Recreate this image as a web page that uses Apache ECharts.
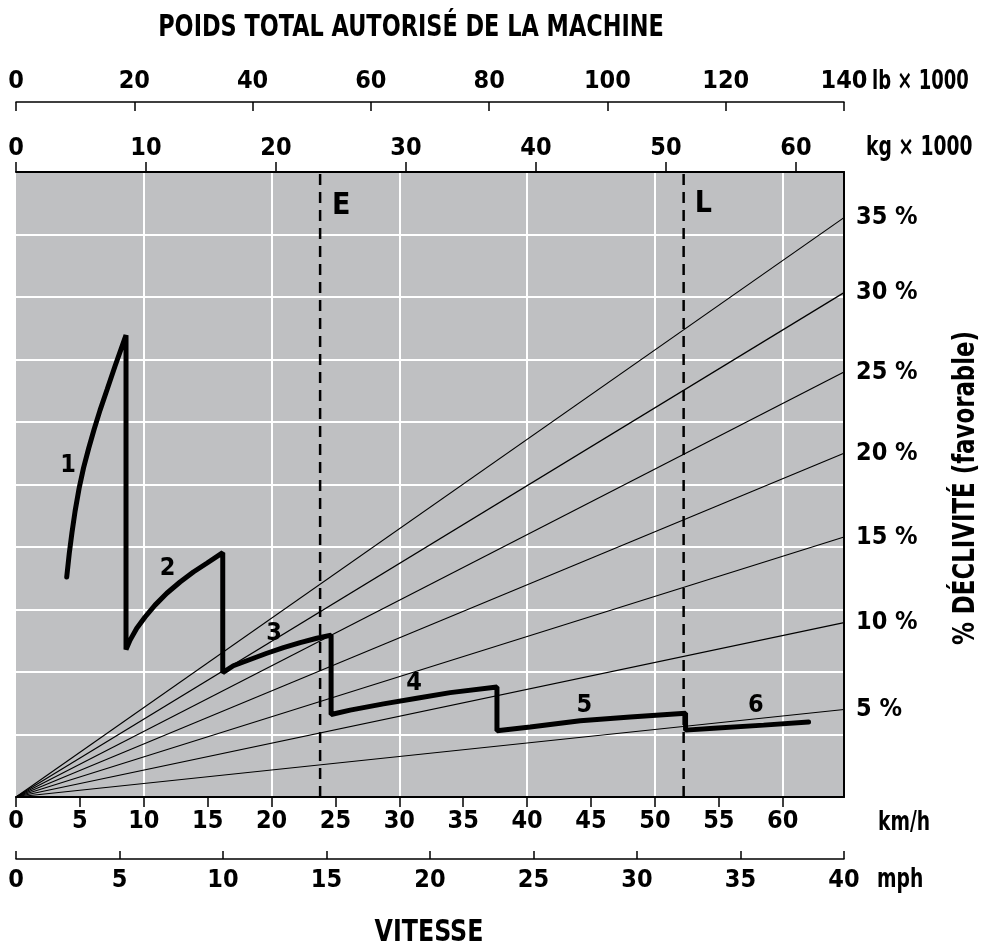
<!DOCTYPE html>
<html>
<head>
<meta charset="utf-8">
<script src="https://cdn.jsdelivr.net/npm/echarts@6/dist/echarts.min.js"></script>
<style>
html,body{margin:0;padding:0;background:#fff;}
#c{width:982px;height:949px;}
</style>
</head>
<body>
<div id="c"></div>
<script>
// ---- axes ranges & ticks ----
const kmhMax = 64.8, kgMax = 63.7, lbMax = 140, mphMax = 40;
const kmhTicks = [0,5,10,15,20,25,30,35,40,45,50,55,60];
const kmhGrid = [10,20,30,40,50,60];
const mphTicks = [0,5,10,15,20,25,30,35,40];
const kgTicks = [0,10,20,30,40,50,60];
const lbTicks = [0,20,40,60,80,100,120,140];

// ---- grade lines (end value at right edge, in chart units 0-10) ----
const gradeLabels = ['5 %','10 %','15 %','20 %','25 %','30 %','35 %'];
const gradeEnd = [1.40, 2.79, 4.16, 5.50, 6.80, 8.07, 9.27];

// ---- retarder curves per gear: [km/h, chart units] ----
const gear1 = [[3.97,3.52],[4.17,3.90],[4.38,4.23],[4.63,4.58],[4.94,4.94],[5.29,5.27],[5.69,5.58],[6.11,5.88],[6.58,6.19],[7.13,6.52],[7.76,6.90],[8.61,7.39]];
const gear2 = [[8.61,2.36],[8.93,2.51],[9.45,2.70],[10.10,2.88],[10.88,3.07],[11.80,3.26],[12.84,3.44],[13.88,3.60],[14.93,3.74],[16.18,3.91]];
const gear3 = [[16.18,1.99],[17.01,2.10],[18.32,2.20],[19.63,2.30],[20.93,2.39],[22.24,2.47],[23.54,2.54],[24.66,2.59]];
const gear4 = [[24.66,1.32],[26.15,1.39],[28.76,1.49],[31.37,1.58],[33.98,1.67],[37.64,1.76]];
const gear5 = [[37.64,1.06],[40.24,1.12],[44.16,1.22],[48.07,1.28],[52.40,1.34]];
const gear6 = [[52.40,1.07],[54.60,1.10],[58.51,1.15],[62.03,1.20]];
const gearNames = ['1','2','3','4','5','6'];
const gearLabelPos = [[4.07,5.30],[11.86,3.65],[20.20,2.61],[31.16,1.81],[44.47,1.46],[57.90,1.46]];

// ---- reference weight lines ----
const refNames = ['E','L'];
const refX = [23.80, 52.25];
const refLabelPos = [[25.45,9.46],[53.79,9.48]];

const FONT = "'Liberation Sans Narrow','DejaVu Sans Condensed','Arial Narrow',sans-serif";
const lab = (extra) => Object.assign({fontFamily: FONT, fontWeight: 'bold', fontSize: 25, color: '#000', textBorderWidth: 0, opacity: 1}, extra || {});

const chart = echarts.init(document.getElementById('c'), null, {renderer: 'canvas'});

const series = [];
gradeEnd.forEach((e, i) => {
  series.push({
    type: 'line', name: gradeLabels[i], xAxisIndex: 0, yAxisIndex: 0,
    data: [[0,0],[kmhMax, e]], symbol: 'none', silent: true, z: 2,
    lineStyle: {color: '#000', width: 1.2}
  });
});
const labelSeries = (data, labelOpt) => ({
  type: 'scatter', xAxisIndex: 0, yAxisIndex: 0, silent: true, z: 6,
  symbol: 'circle', symbolSize: 0, itemStyle: {color: '#000', opacity: 1},
  data: data, label: labelOpt, emphasis: {disabled: true}
});
series.push(labelSeries(
  gradeEnd.map((e, i) => ({value: [kmhMax, e], name: gradeLabels[i]})),
  lab({show: true, position: 'right', distance: 12, formatter: p => p.name})
));
refX.forEach((x, i) => {
  series.push({
    type: 'line', name: refNames[i], xAxisIndex: 0, yAxisIndex: 0,
    data: [[x,0],[x,10]], symbol: 'none', silent: true, z: 3,
    lineStyle: {color: '#000', width: 2.5, type: [11,7]}
  });
});
series.push({
  type: 'line', name: 'retarder', xAxisIndex: 0, yAxisIndex: 0,
  data: [].concat(gear1, gear2, gear3, gear4, gear5, gear6),
  symbol: 'none', silent: true, z: 4, smooth: false,
  lineStyle: {color: '#000', width: 5, cap: 'round', join: 'bevel'}
});
series.push(labelSeries(
  gearLabelPos.map((p, i) => ({value: p, name: gearNames[i]})),
  lab({show: true, position: 'inside', fontSize: 25, formatter: p => p.name})
));
series.push(labelSeries(
  refLabelPos.map((p, i) => ({value: p, name: refNames[i]})),
  lab({show: true, position: 'inside', fontSize: 30, formatter: p => p.name})
));

const axisLab = (margin, ticks) => lab({margin: margin, customValues: ticks, formatter: v => String(v)});
const txt = (x, y, text, size, sx, extra) => Object.assign({
  type: 'text', x: x, y: y, scaleX: sx, silent: true,
  style: {text: text, fill: '#000', font: 'bold ' + size + 'px ' + FONT, align: 'left', verticalAlign: 'middle'}
}, extra || {});

const option = {
  animation: false,
  backgroundColor: '#ffffff',
  grid: {left: 16, right: 138, top: 172, bottom: 152, show: true, backgroundColor: '#bfc0c2', borderWidth: 0},
  xAxis: [
    { // km/h
      type: 'value', position: 'bottom', min: 0, max: kmhMax, interval: 5,
      axisLine: {show: true, onZero: false, lineStyle: {color: '#000', width: 2}},
      axisTick: {show: true, length: 10, customValues: kmhTicks, lineStyle: {color: '#000', width: 1.5}},
      axisLabel: axisLab(12, kmhTicks),
      splitLine: {show: false}
    },
    { // vertical white grid
      type: 'value', position: 'bottom', min: 0, max: kmhMax, interval: 10,
      axisLine: {show: false}, axisTick: {show: false, customValues: kmhGrid}, axisLabel: {show: false, customValues: kmhGrid},
      splitLine: {show: true, lineStyle: {color: '#ffffff', width: 2}}
    },
    { // mph
      type: 'value', position: 'bottom', offset: 62, min: 0, max: mphMax, interval: 5,
      axisLine: {show: true, onZero: false, lineStyle: {color: '#000', width: 1.5}},
      axisTick: {show: true, inside: true, length: 8, customValues: mphTicks, lineStyle: {color: '#000', width: 1.5}},
      axisLabel: axisLab(9, mphTicks),
      splitLine: {show: false}
    },
    { // kg
      type: 'value', position: 'top', min: 0, max: kgMax, interval: 10,
      axisLine: {show: true, onZero: false, lineStyle: {color: '#000', width: 2}},
      axisTick: {show: true, length: 10, customValues: kgTicks, lineStyle: {color: '#000', width: 1.5}},
      axisLabel: axisLab(11, kgTicks),
      splitLine: {show: false}
    },
    { // lb
      type: 'value', position: 'top', offset: 70, min: 0, max: lbMax, interval: 20,
      axisLine: {show: true, onZero: false, lineStyle: {color: '#000', width: 1.5}},
      axisTick: {show: true, inside: true, length: 9, customValues: lbTicks, lineStyle: {color: '#000', width: 1.5}},
      axisLabel: axisLab(8, lbTicks),
      splitLine: {show: false}
    }
  ],
  yAxis: [{
    type: 'value', position: 'right', min: 0, max: 10, interval: 1,
    axisLine: {show: true, onZero: false, lineStyle: {color: '#000', width: 2}},
    axisTick: {show: false}, axisLabel: {show: false},
    splitLine: {show: true, lineStyle: {color: '#ffffff', width: 2}}
  }],
  graphic: [
    txt(411, 28, 'POIDS TOTAL AUTORISÉ DE LA MACHINE', 30, 0.83, {style: {text: 'POIDS TOTAL AUTORISÉ DE LA MACHINE', fill: '#000', font: 'bold 30px ' + FONT, align: 'center', verticalAlign: 'middle'}}),
    txt(429, 933, 'VITESSE', 30, 0.88, {style: {text: 'VITESSE', fill: '#000', font: 'bold 30px ' + FONT, align: 'center', verticalAlign: 'middle'}}),
    txt(966, 488, '% DÉCLIVITÉ (favorable)', 31, 0.82, {rotation: Math.PI / 2, style: {text: '% DÉCLIVITÉ (favorable)', fill: '#000', font: 'bold 31px ' + FONT, align: 'center', verticalAlign: 'middle'}}),
    txt(872, 82, 'lb × 1000', 26, 0.77),
    txt(866, 148, 'kg × 1000', 26, 0.8),
    txt(878, 823, 'km/h', 26, 0.8),
    txt(877, 880, 'mph', 26, 0.8)
  ],
  series: series
};
chart.setOption(option);
</script>
</body>
</html>
